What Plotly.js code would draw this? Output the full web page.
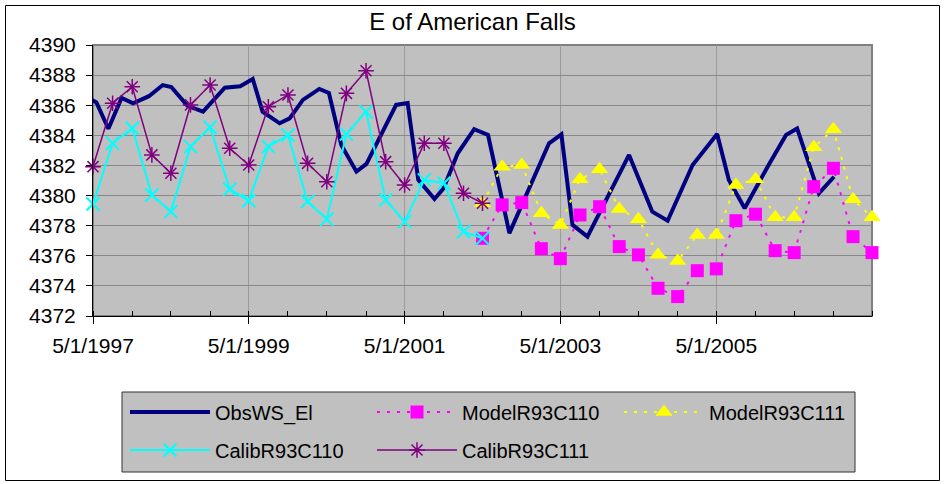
<!DOCTYPE html>
<html>
<head>
<meta charset="utf-8">
<script src="https://cdn.plot.ly/plotly-3.0.1.min.js"></script>
<style>
html,body{margin:0;padding:0;background:#fff;}
#chart{width:945px;height:484px;}
</style>
</head>
<body>
<div id="chart"></div>
<script>
var obsDates = ['1997-04-01','1997-05-17','1997-07-12','1997-09-12','1997-11-05','1998-01-18','1998-03-24','1998-05-03','1998-07-18','1998-09-29','1999-01-09','1999-03-22','1999-05-20','1999-07-05','1999-09-23','1999-11-09','2000-01-10','2000-03-27','2000-05-11','2000-07-08','2000-09-17','2000-11-03','2001-03-22','2001-05-15','2001-07-04','2001-09-18','2001-10-30','2002-01-05','2002-03-23','2002-05-27','2002-09-04','2003-03-09','2003-05-06','2003-06-27','2003-09-05','2004-03-18','2004-07-05','2004-09-15','2005-01-10','2005-05-05','2005-06-29','2005-09-11','2006-01-04','2006-03-24','2006-05-15','2006-08-25','2006-11-04'];
var obsValues = [4386.57,4386.18,4384.44,4386.48,4386.13,4386.60,4387.34,4387.21,4385.96,4385.57,4387.16,4387.26,4387.74,4385.57,4384.80,4385.13,4386.35,4387.08,4386.81,4383.36,4381.59,4382.10,4386.02,4386.15,4381.04,4379.77,4380.47,4382.81,4384.41,4384.02,4377.50,4383.47,4384.06,4378.05,4377.27,4382.70,4378.93,4378.33,4382.03,4384.09,4381.04,4379.16,4382.10,4384.02,4384.46,4380.15,4381.25];

var calibDates = ['1997-05-01','1997-08-01','1997-11-01','1998-02-01','1998-05-01','1998-08-01','1998-11-01','1999-02-01','1999-05-01','1999-08-01','1999-11-01','2000-02-01','2000-05-01','2000-08-01','2000-11-01','2001-02-01','2001-05-01','2001-08-01','2001-11-01','2002-02-01','2002-05-01'];
var calibR93C110 = [4379.44,4383.47,4384.47,4380.04,4378.93,4383.25,4384.54,4380.42,4379.66,4383.25,4384.02,4379.60,4378.43,4384.09,4385.57,4379.71,4378.27,4381.04,4380.82,4377.60,4377.16];
var calibR93C111 = [4381.92,4386.13,4387.23,4382.70,4381.48,4386.02,4387.34,4383.14,4382.03,4385.90,4386.68,4382.14,4380.92,4386.79,4388.29,4382.25,4380.70,4383.47,4383.47,4380.15,4379.49];

var modelDates = ['2002-05-01','2002-08-01','2002-11-01','2003-02-01','2003-05-01','2003-08-01','2003-11-01','2004-02-01','2004-05-01','2004-08-01','2004-11-01','2005-02-01','2005-05-01','2005-08-01','2005-11-01','2006-02-01','2006-05-01','2006-08-01','2006-11-01','2007-02-01','2007-05-01'];
var modelR93C110 = [4377.16,4379.38,4379.53,4376.47,4375.81,4378.71,4379.26,4376.61,4376.06,4373.84,4373.29,4375.01,4375.13,4378.33,4378.76,4376.34,4376.21,4380.59,4381.81,4377.27,4376.21];
var modelR93C111 = [4379.49,4381.92,4382.03,4378.82,4378.05,4381.08,4381.75,4379.11,4378.43,4376.06,4375.66,4377.38,4377.38,4380.70,4381.08,4378.56,4378.56,4383.21,4384.40,4379.75,4378.56];

var seriesNames = ['ObsWS_El','ModelR93C110','ModelR93C111','CalibR93C110','CalibR93C111'];
var chartTitle = 'E of American Falls';
var xTickVals = ['1997-05-01','1999-05-01','2001-05-01','2003-05-01','2005-05-01'];
var xTickText = ['5/1/1997','5/1/1999','5/1/2001','5/1/2003','5/1/2005'];

var FONT = 'Liberation Sans, Arial, sans-serif';

var traces = [
  {x: obsDates, y: obsValues, name: seriesNames[0], type: 'scatter', mode: 'lines',
   line: {color: '#000080', width: 4}, legend: 'legend', cliponaxis: false},
  {x: modelDates, y: modelR93C110, name: seriesNames[1], type: 'scatter', mode: 'lines+markers',
   line: {color: '#FF00FF', width: 2, dash: '3px,7px'},
   marker: {symbol: 'square', size: 13, color: '#FF00FF'}, legend: 'legend', cliponaxis: false},
  {x: modelDates, y: modelR93C111, name: seriesNames[2], type: 'scatter', mode: 'lines+markers',
   line: {color: '#FFFF00', width: 2, dash: '3px,7px'},
   marker: {symbol: 'triangle-up', size: 15, color: '#FFFF00'}, legend: 'legend', cliponaxis: false},
  {x: calibDates, y: calibR93C110, name: seriesNames[3], type: 'scatter', mode: 'lines+markers',
   line: {color: '#00FFFF', width: 2},
   marker: {symbol: 'x-thin-open', size: 13, color: '#00FFFF', line: {color: '#00FFFF', width: 2}}, legend: 'legend2', cliponaxis: false},
  {x: calibDates, y: calibR93C111, name: seriesNames[4], type: 'scatter', mode: 'lines+markers',
   line: {color: '#800080', width: 1.5},
   marker: {symbol: 'asterisk-open', size: 13, color: '#800080', line: {color: '#800080', width: 1.5}}, legend: 'legend2', cliponaxis: false}
];

// plot area in pixels
var L = 93, R = 872, T = 45, B = 316, W = 945, H = 484;
function px(x){ return (x - L) / (R - L); }
function py(y){ return (B - y) / (B - T); }

var layout = {
  width: W, height: H,
  margin: {l: L, r: W - R, t: T, b: H - B, pad: 0},
  paper_bgcolor: '#FFFFFF',
  plot_bgcolor: '#C0C0C0',
  font: {family: FONT, size: 20, color: '#000'},
  title: {text: chartTitle, x: 0.5, xref: 'container', xanchor: 'center',
          y: 1 - 22/H, yref: 'container', yanchor: 'middle',
          font: {family: FONT, size: 24, color: '#000'}},
  xaxis: {
    type: 'date', range: ['1997-05-01', '2007-05-01'],
    tickmode: 'array', tickvals: xTickVals, ticktext: xTickText,
    ticks: 'outside', ticklen: 7, tickwidth: 1, tickcolor: '#000',
    ticklabelstandoff: 4,
    showline: true, linecolor: '#000', linewidth: 1,
    showgrid: true, gridcolor: '#9a9a9a', gridwidth: 1,
    zeroline: false,
    tickfont: {family: FONT, size: 21, color: '#000'},
    minor: {ticks: 'inside', ticklen: 5, tickcolor: '#000', tickwidth: 1,
            tick0: '1997-05-01', dtick: 'M6', showgrid: false}
  },
  yaxis: {
    range: [4372, 4390], dtick: 2, tick0: 4372,
    ticks: 'outside', ticklen: 6, tickwidth: 1, tickcolor: '#000',
    ticklabelstandoff: 6,
    showline: true, linecolor: '#000', linewidth: 1,
    showgrid: true, gridcolor: '#888888', gridwidth: 1,
    zeroline: false,
    tickfont: {family: FONT, size: 21, color: '#000'}
  },
  showlegend: true,
  legend: {
    orientation: 'h', xref: 'container', yref: 'container',
    x: 125/W, xanchor: 'left', y: 1 - 412/H, yanchor: 'middle',
    bgcolor: 'rgba(0,0,0,0)', borderwidth: 0,
    entrywidth: 152, entrywidthmode: 'pixels', itemwidth: 80,
    font: {family: FONT, size: 20, color: '#000'}, traceorder: 'normal'
  },
  legend2: {
    orientation: 'h', xref: 'container', yref: 'container',
    x: 125/W, xanchor: 'left', y: 1 - 450/H, yanchor: 'middle',
    bgcolor: 'rgba(0,0,0,0)', borderwidth: 0,
    entrywidth: 152, entrywidthmode: 'pixels', itemwidth: 80,
    font: {family: FONT, size: 20, color: '#000'}, traceorder: 'normal'
  },
  shapes: [
    {type: 'rect', xref: 'paper', yref: 'paper', x0: 0, x1: 1, y0: 0, y1: 1,
     line: {color: '#808080', width: 2}, layer: 'below'},
    {type: 'rect', xref: 'paper', yref: 'paper', x0: px(122), x1: px(855), y0: py(472), y1: py(392),
     line: {color: '#333333', width: 1}, fillcolor: '#C0C0C0', layer: 'below'},
    {type: 'rect', xref: 'paper', yref: 'paper', x0: px(5.5), x1: px(939.5), y0: py(480.5), y1: py(5.5),
     line: {color: '#000000', width: 1}, layer: 'above'}
  ]
};

Plotly.newPlot('chart', traces, layout, {staticPlot: true, displayModeBar: false});
</script>
</body>
</html>
